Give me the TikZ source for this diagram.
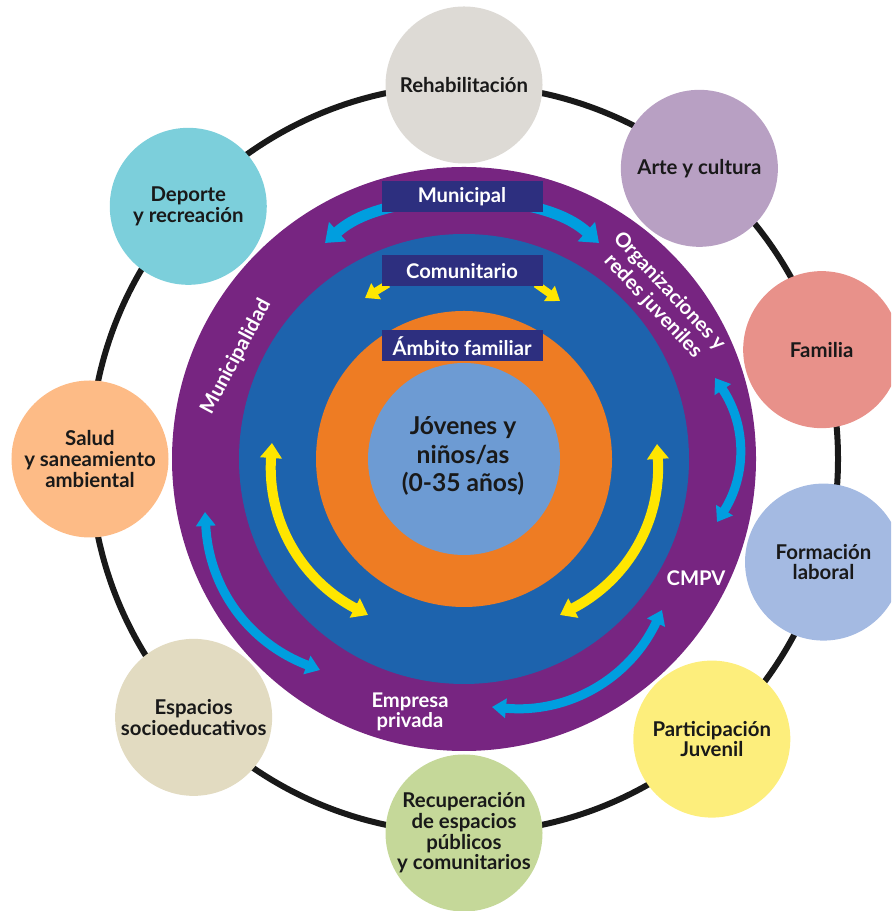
\documentclass[tikz,border=0pt]{standalone}
\usepackage{fontspec}
\setmainfont{Lato}
\usetikzlibrary{arrows.meta,calc,positioning}

\definecolor{ringpurple}{HTML}{772581}
\definecolor{midblue}{HTML}{1D63AD}
\definecolor{famorange}{HTML}{EE7C23}
\definecolor{coreblue}{HTML}{6D9BD3}
\definecolor{boxnavy}{HTML}{2D2F7F}
\definecolor{arrowcyan}{HTML}{009EDF}
\definecolor{arrowyellow}{HTML}{FFE600}
\definecolor{cRehab}{HTML}{DDDAD5}
\definecolor{cArte}{HTML}{B8A0C3}
\definecolor{cFamilia}{HTML}{E8918A}
\definecolor{cFormacion}{HTML}{A4BAE2}
\definecolor{cParticip}{HTML}{FDEE7C}
\definecolor{cRecup}{HTML}{C5D899}
\definecolor{cEspacios}{HTML}{E2DBC1}
\definecolor{cSalud}{HTML}{FDBB86}
\definecolor{cDeporte}{HTML}{7CCFDB}

\begin{document}
\begin{tikzpicture}[x=0.2mm, y=0.2mm,
	sat/.style={circle, inner sep=0pt, minimum size=31.4mm, align=center, text=black!90, font=\bfseries\fontsize{11.6}{11.8}\selectfont},
	ringtext/.style={text=white, align=center, font=\bfseries\fontsize{11.5}{11}\selectfont},
	lvlbox/.style={fill=boxnavy, text=white, minimum width=32.2mm, minimum height=6.2mm, inner sep=0pt, font=\bfseries\fontsize{11.5}{12}\selectfont},
	cyanarr/.style={draw=arrowcyan, line width=1.8mm, >={Triangle[width=3.8mm,length=2.8mm]}},
	yelarr/.style={draw=arrowyellow, line width=2mm, >={Triangle[width=4.2mm,length=3mm]}}]

		\clip (0,0) rectangle (891,911);

		\coordinate (O) at (464,452);

		% outer ring with the areas
		\draw[line width=1.2mm, black!90] (O) circle[radius=374];

		\foreach \ang/\nm/\col/\txt in {
			90/rehab/cRehab/{Rehabilitación},
			51/arte/cArte/{Arte y cultura},
			17/familia/cFamilia/{Familia},
			-16/formacion/cFormacion/{Formación\\laboral},
			-48.5/particip/cParticip/{Participación\\Juvenil},
			-90/recup/cRecup/{Recuperación\\de espacios\\públicos\\y comunitarios},
			-136.3/espacios/cEspacios/{Espacios\\socioeducativos},
			180/salud/cSalud/{Salud\\y saneamiento\\ambiental},
			137.5/deporte/cDeporte/{Deporte\\y recreación}} {
			\node[sat, fill=\col] (\nm) at ($(O)+(\ang:374)$) {\txt};
		}

		% levels
		\fill[ringpurple] (O) circle[radius=292];
		\fill[midblue] (O) circle[radius=225];
		\fill[famorange] (O) circle[radius=148];
		\fill[coreblue] (O) circle[radius=96];

		% arrows in the purple ring
		\coordinate (mL) at (400,706);
		\coordinate (mLt) at (325,668);
		\coordinate (mR) at (524,706);
		\coordinate (mRt) at (599,668);
		\draw[cyanarr, line width=2.2mm, >={Triangle[width=5mm,length=3.4mm]}, ->] (mL) to[bend right=15] (mLt);
		\draw[cyanarr, line width=2.2mm, >={Triangle[width=5mm,length=3.4mm]}, ->] (mR) to[bend left=15] (mRt);

		\coordinate (bl1) at (205,399);
		\coordinate (bl2) at (320,241);
		\coordinate (br1) at (715,533);
		\coordinate (br2) at (717,389);
		\coordinate (bb1) at (662,301);
		\coordinate (bb2) at (492,204);
		\draw[cyanarr, <->] (bl1) to[bend right=33] (bl2);
		\draw[cyanarr, <->] (br1) to[bend left=33] (br2);
		\draw[cyanarr, <->] (bb1) to[bend left=35] (bb2);

		% arrows in the blue ring
		\coordinate (cL) at (388,627);
		\coordinate (cLt) at (365,613);
		\coordinate (cR) at (536,627);
		\coordinate (cRt) at (560,610);
		\draw[yelarr, line width=1.5mm, >={Triangle[width=3.6mm,length=2.6mm]}, ->] (cL) -- (cLt);
		\draw[yelarr, line width=1.5mm, >={Triangle[width=3.6mm,length=2.6mm]}, ->] (cR) -- (cRt);

		\coordinate (yl1) at (272,468);
		\coordinate (yl2) at (368,296);
		\coordinate (yr1) at (657,467);
		\coordinate (yr2) at (560,296);
		\draw[yelarr, <->] (yl1) to[bend right=33] (yl2);
		\draw[yelarr, <->] (yr1) to[bend left=33] (yr2);

		% labels
		\node[lvlbox] (municipal) at (462,714) {Municipal};
		\node[lvlbox] (comunitario) at (462,640) {Comunitario};
		\node[lvlbox] (ambito) at (462,565) {Ámbito familiar};

		\node[text=black!90, align=center, font=\bfseries\fontsize{14}{16.4}\selectfont] (jovenes) at (463,455) {Jóvenes y\\niños/as\\(0-35 años)};

		\node[ringtext, rotate=62] (municipalidad) at (236,554) {Municipalidad};
		\node[ringtext, rotate=-47, font=\bfseries\fontsize{11.5}{12.6}\selectfont] (organiz) at (661,612) {Organizaciones y\\redes juveniles};
		\node[ringtext] (cmpv) at (696,333) {CMPV};
		\node[ringtext] (empresa) at (410,199) {Empresa\\privada};

	\end{tikzpicture}
\end{document}
